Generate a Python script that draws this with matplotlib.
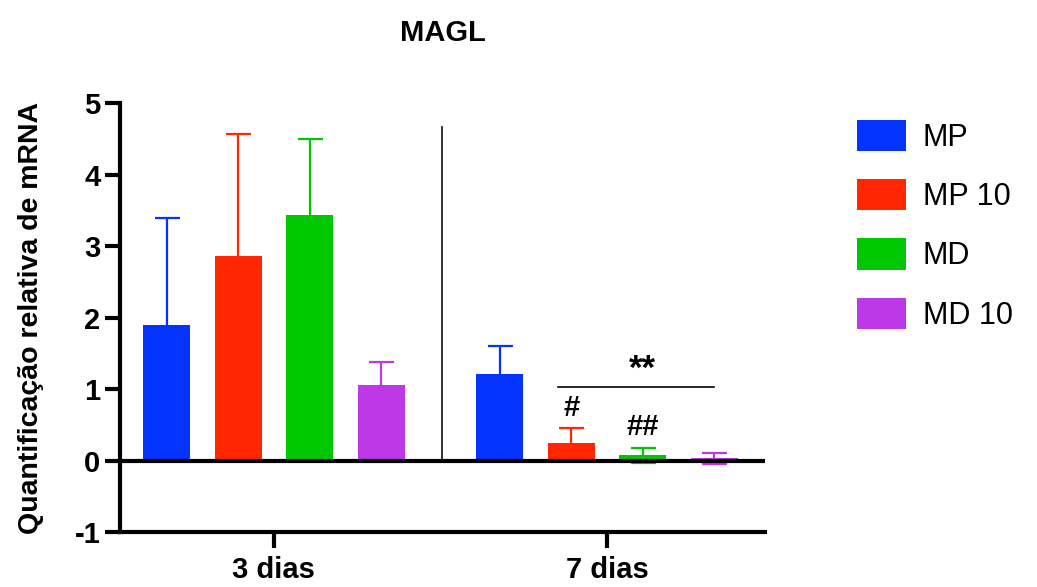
import numpy as np
import matplotlib
matplotlib.use('Agg')
import matplotlib.pyplot as plt

plt.rcParams['font.family'] = ['Liberation Sans', 'DejaVu Sans']
plt.rcParams['axes.unicode_minus'] = False

# Data
groups = ['3 dias', '7 dias']
series = ['MP', 'MP 10', 'MD', 'MD 10']
means = {'MP':    [1.90, 1.21],
         'MP 10': [2.86, 0.24],
         'MD':    [3.43, 0.07],
         'MD 10': [1.05, 0.03]}
errs = {'MP':    [1.49, 0.39],
        'MP 10': [1.70, 0.21],
        'MD':    [1.06, 0.11],
        'MD 10': [0.33, 0.08]}
colors = ['#0433FF', '#FF2600', '#00C800', '#BD39E8']

fig = plt.figure(figsize=(10.37, 5.87), dpi=100)
ax = fig.add_axes([0.1157, 0.0937, 0.622, 0.7308])

xc = np.arange(len(groups))
off = 0.2147
w = 0.141
for i, s in enumerate(series):
    x = xc + (i - 1.5) * off
    ax.errorbar(x, means[s], yerr=errs[s], fmt='none', ecolor=colors[i],
                elinewidth=1.6, capsize=9, capthick=1.6, zorder=2)
    ax.bar(x, means[s], width=w, color=colors[i], label=s, zorder=3, linewidth=0)

ax.axhline(0, color='black', lw=3, zorder=4)
ax.plot([0.504, 0.504], [-0.02, 4.67], color='#222222', lw=1.3, zorder=1)

# significance marks
ax.plot([1 - 0.5 * off - 0.04, 1 + 1.5 * off], [1.03, 1.03], color='black', lw=1.2)
ax.text(1 + 0.5 * off, 1.28, '**', ha='center', va='center', fontsize=25, fontweight='bold')
ax.text(1 - 0.5 * off, 0.74, '#', ha='center', va='center', fontsize=21, fontweight='bold')
ax.text(1 + 0.5 * off, 0.47, '##', ha='center', va='center', fontsize=21, fontweight='bold')

ax.set_xlim(-0.462, 1.474)
ax.set_ylim(-1, 5)
ax.set_yticks([-1, 0, 1, 2, 3, 4, 5])
ax.set_xticks(xc)
ax.set_xticklabels(groups)
for sp in ['top', 'right']:
    ax.spines[sp].set_visible(False)
for sp in ['left', 'bottom']:
    ax.spines[sp].set_linewidth(3)
ax.tick_params(axis='y', length=11, width=3, labelsize=21, pad=3)
ax.tick_params(axis='x', length=11.5, width=3, labelsize=21, pad=6)
for lab in ax.get_xticklabels() + ax.get_yticklabels():
    lab.set_fontweight('bold')

ax.set_ylabel('Quantificação relativa de mRNA', fontsize=20.5, fontweight='bold', labelpad=22)
ax.set_title('MAGL', fontsize=21, fontweight='bold', pad=45, x=0.50)

ax.legend(loc='upper left', bbox_to_anchor=(1.1, 1.025), frameon=False, fontsize=22,
          handlelength=1.6, handleheight=1.2, labelspacing=0.86, handletextpad=0.55)

fig.savefig('out.png', dpi=100)
